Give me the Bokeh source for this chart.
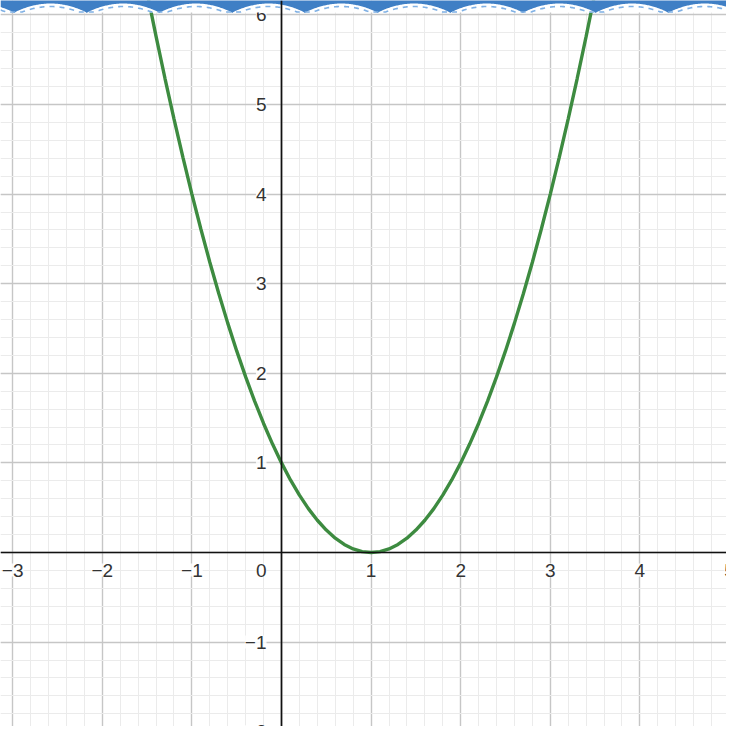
import numpy as np
from bokeh.plotting import figure
from bokeh.models import Range1d, Grid, SingleIntervalTicker, Span, ColumnDataSource
from bokeh.core.properties import value
from bokeh.embed import file_html
from bokeh.resources import INLINE

# Curve points (parabola with vertex at (1, 0))
curve_x = [-1.5, -1.4, -1.3, -1.2, -1.1, -1.0, -0.9, -0.8, -0.7, -0.6, -0.5, -0.4, -0.3, -0.2, -0.1,
           0.0, 0.1, 0.2, 0.3, 0.4, 0.5, 0.6, 0.7, 0.8, 0.9, 1.0, 1.1, 1.2, 1.3, 1.4, 1.5,
           1.6, 1.7, 1.8, 1.9, 2.0, 2.1, 2.2, 2.3, 2.4, 2.5, 2.6, 2.7, 2.8, 2.9, 3.0,
           3.1, 3.2, 3.3, 3.4, 3.5]
curve_y = [6.25, 5.76, 5.29, 4.84, 4.41, 4.00, 3.61, 3.24, 2.89, 2.56, 2.25, 1.96, 1.69, 1.44, 1.21,
           1.00, 0.81, 0.64, 0.49, 0.36, 0.25, 0.16, 0.09, 0.04, 0.01, 0.00, 0.01, 0.04, 0.09, 0.16, 0.25,
           0.36, 0.49, 0.64, 0.81, 1.00, 1.21, 1.44, 1.69, 1.96, 2.25, 2.56, 2.89, 3.24, 3.61, 4.00,
           4.41, 4.84, 5.29, 5.76, 6.25]

# Tick labels
x_tick_vals = [-3, -2, -1, 1, 2, 3, 4, 5]
x_tick_text = ["\u22123", "\u22122", "\u22121", "1", "2", "3", "4", "5"]
y_tick_vals = [-2, -1, 1, 2, 3, 4, 5, 6]
y_tick_text = ["\u22122", "\u22121", "1", "2", "3", "4", "5", "6"]
origin_text = ["0"]

W = H = 726
PX = 89.6
X0 = -281 / PX
X1 = X0 + W / PX
Y1 = 552 / PX
Y0 = Y1 - H / PX

p = figure(width=W, height=H, x_range=Range1d(X0, X1), y_range=Range1d(Y0, Y1),
           x_axis_type=None, y_axis_type=None, toolbar_location=None,
           output_backend="svg", min_border=0)
p.outline_line_color = None
p.background_fill_color = "white"

for dim in (0, 1):
    g = Grid(dimension=dim, ticker=SingleIntervalTicker(interval=1, num_minor_ticks=5))
    g.grid_line_color = "#c6c6c6"
    g.grid_line_width = 1.4
    g.minor_grid_line_color = "#ebebeb"
    g.minor_grid_line_width = 1
    p.add_layout(g)

p.add_layout(Span(location=0, dimension="width", line_color="#111111", line_width=1.7))
p.add_layout(Span(location=0, dimension="height", line_color="#111111", line_width=1.7))

p.line(curve_x, curve_y, line_color="#3d8b40", line_width=3.4)

font = value("Liberation Sans")
common = dict(text_font=font, text_font_size="19px", text_color="#333333",
              background_fill_color="white", background_fill_alpha=0.85)
xs = ColumnDataSource(dict(x=x_tick_vals, y=[0] * len(x_tick_vals), t=x_tick_text))
p.text(x="x", y="y", text="t", source=xs, text_align="center", text_baseline="top",
       y_offset=11, **common)
ys = ColumnDataSource(dict(x=[0] * len(y_tick_vals), y=y_tick_vals, t=y_tick_text))
p.text(x="x", y="y", text="t", source=ys, text_align="right", text_baseline="middle",
       x_offset=-15, **common)
os_ = ColumnDataSource(dict(x=[0], y=[0], t=origin_text))
p.text(x="x", y="y", text="t", source=os_, text_align="right", text_baseline="top",
       x_offset=-15, y_offset=11, **common)

# decorative scalloped top border (screen-space decoration, not data)
BAND = 12.0
p.quad(left=X0, right=X1, bottom=Y1 - BAND / PX, top=Y1 + 0.1, fill_color="white", line_color=None)
wx = np.linspace(X0, X1, 800)
spx = (wx - X0) * PX
period = 72.7
u = ((spx - 50 + period / 2) % period) / period          # 0 at dip, 0.5 at crest
depth_px = 12.5 - 9.5 * np.sin(np.pi * u) ** 0.8
wy = Y1 - depth_px / PX
p.patch(list(wx) + [X1, X0], list(wy) + [Y1 + 0.1, Y1 + 0.1], fill_color="#3f7fc5", line_color=None)
dash_px = np.minimum(depth_px + 3.0, BAND - 0.5)
p.line(wx, Y1 - dash_px / PX, line_color="#7fb0e4", line_width=1.6, line_dash="5 5")

open("out.html", "w").write(file_html(p, INLINE))
